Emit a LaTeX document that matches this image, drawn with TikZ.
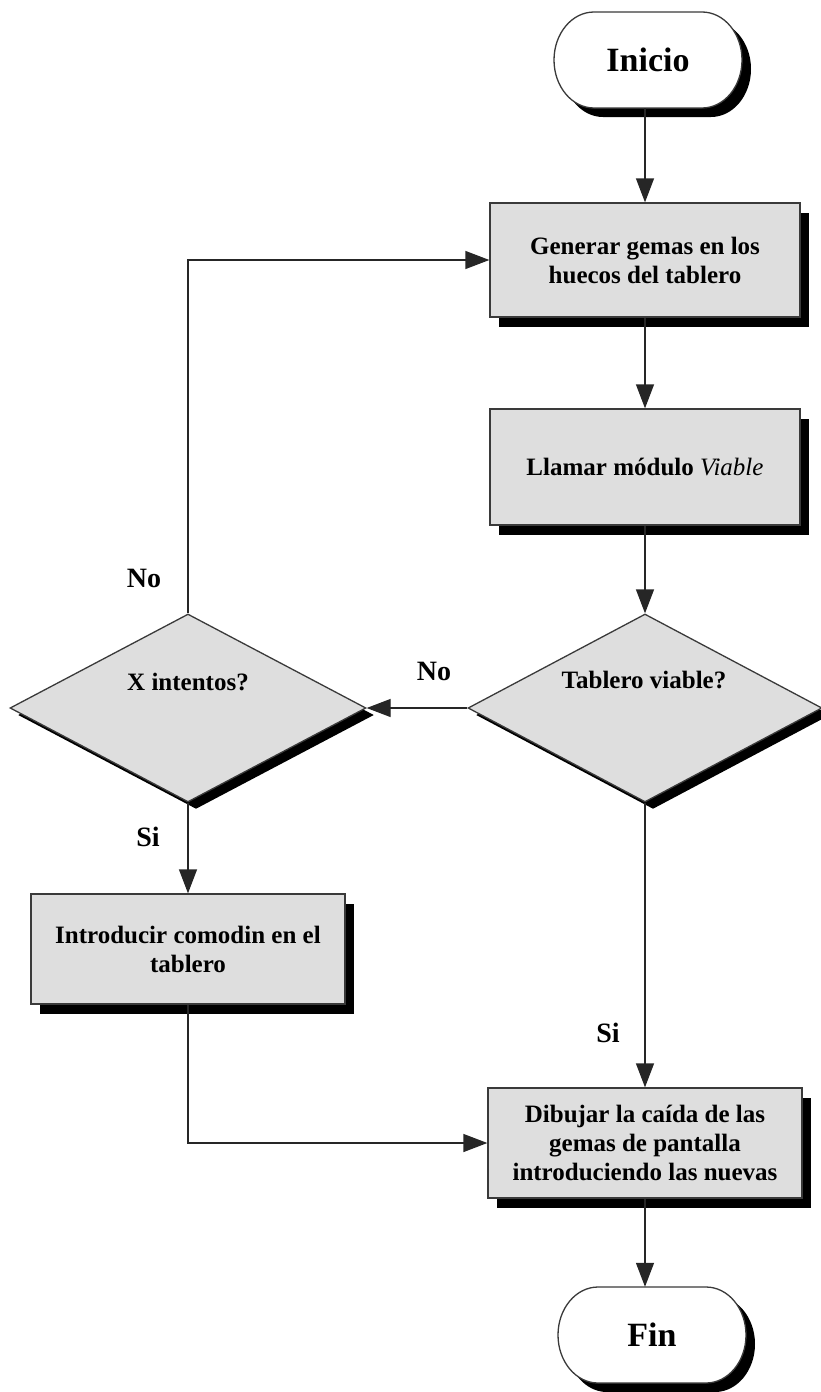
\documentclass[tikz,border=0pt]{standalone}
\usepackage{fontspec}
\setmainfont{Liberation Serif}
\usetikzlibrary{arrows.meta,shapes.geometric,shadows,calc}

\definecolor{boxgray}{HTML}{DEDEDE}
\definecolor{edgegray}{HTML}{3A3A3A}

% stadium-shaped terminal with elliptic ends and a solid drop shadow
\newcommand{\terminalshape}[4]{% name, x, y, text
  \fill[black] (#2-54+9,#3-48+9) -- (#2+54+9,#3-48+9)
    arc[start angle=-90, end angle=90, x radius=40, y radius=48]
    -- (#2-54+9,#3+48+9)
    arc[start angle=90, end angle=270, x radius=40, y radius=48] -- cycle;
  \filldraw[fill=white, draw=edgegray, line width=1.3pt] (#2-54,#3-48) -- (#2+54,#3-48)
    arc[start angle=-90, end angle=90, x radius=40, y radius=48]
    -- (#2-54,#3+48)
    arc[start angle=90, end angle=270, x radius=40, y radius=48] -- cycle;
  \node[term] (#1) at (#2,#3) {#4};
}

\begin{document}
\begin{tikzpicture}[x=1pt, y=-1pt,
  term/.style={rectangle, minimum width=188pt, minimum height=96pt, inner sep=0pt,
    font=\fontsize{34}{38}\selectfont\bfseries},
  procbox/.style={rectangle, draw=edgegray, line width=1.3pt, fill=boxgray,
    minimum width=310pt, minimum height=114pt, inner sep=0pt, align=center,
    font=\fontsize{25}{29}\selectfont\bfseries,
    drop shadow={shadow xshift=9pt, shadow yshift=-10pt, fill=black, opacity=1}},
  decision/.style={diamond, draw=edgegray, line width=1.3pt, fill=boxgray,
    minimum width=354pt, minimum height=188pt, inner sep=0pt,
    drop shadow={shadow xshift=8pt, shadow yshift=-7pt, fill=black, opacity=1}},
  dtext/.style={font=\fontsize{25}{29}\selectfont\bfseries},
  lbl/.style={font=\fontsize{28}{32}\selectfont\bfseries},
  conn/.style={draw=black!85, line width=1.3pt},
  arr/.style={conn, -{Triangle[length=24pt, width=18pt]}}
]
\useasboundingbox (0,0) rectangle (821,1392);

% start and end terminals
\terminalshape{ini}{648}{60}{Inicio}
\terminalshape{fin}{652}{1335}{Fin}

% process boxes
\node[procbox] (gen) at (645,260) {Generar gemas en los\\huecos del tablero};
\node[procbox, minimum height=116pt] (lla) at (645,467) {Llamar módulo {\mdseries\itshape Viable}};
\node[procbox, minimum width=314pt, minimum height=110pt] (intro) at (188,949) {Introducir comodin en el\\tablero};
\node[procbox, minimum width=314pt, minimum height=110pt] (dib) at (645,1143) {Dibujar la caída de las\\gemas de pantalla\\introduciendo las nuevas};

% decisions
\node[decision] (tab) at (645,708) {};
\node[dtext] (tabtxt) at (644,680) {Tablero viable?};
\node[decision, minimum width=356pt] (xint) at (188,708) {};
\node[dtext] (xinttxt) at (188,682) {X intentos?};

% connectors
\draw[arr] (gen.north |- ini.south) -- (gen.north);
\draw[arr] (gen.south) -- (lla.north);
\draw[arr] (lla.south) -- (tab.north);
\draw[arr] (tab.west) -- (xint.east);
\draw[arr] (xint.north) |- (gen.west);
\draw[arr] (xint.south) -- (intro.north);
\draw[arr] (intro.south) |- (dib.west);
\draw[arr] (tab.south) -- (dib.north);
\draw[arr] (dib.south) -- (dib.south |- fin.north);

% branch labels
\node[lbl] (lno1) at (144,578) {No};
\node[lbl] (lno2) at (434,671) {No};
\node[lbl] (lsi1) at (148,837) {Si};
\node[lbl] (lsi2) at (608,1033) {Si};
\end{tikzpicture}
\end{document}
